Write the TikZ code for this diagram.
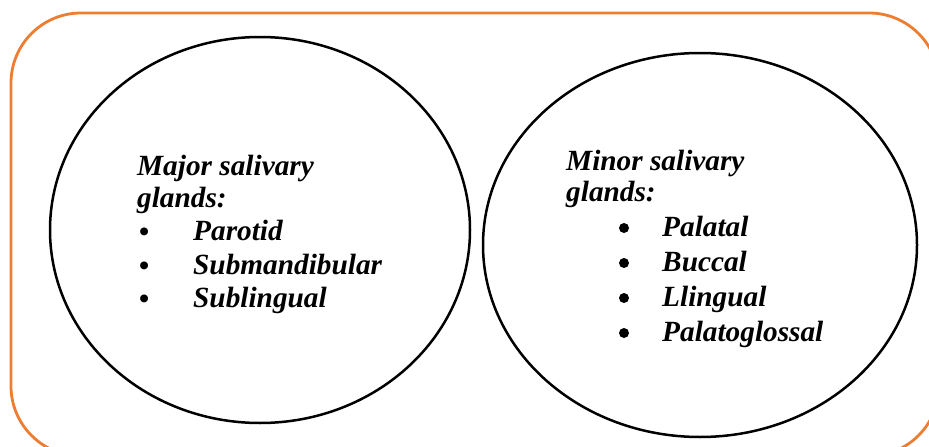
\documentclass[tikz,border=0pt]{standalone}
\usepackage{fontspec}
\setmainfont{Liberation Serif}
\usetikzlibrary{shapes.geometric}
\definecolor{frameorange}{RGB}{237,125,49}
\begin{document}
\begin{tikzpicture}[x=1pt,y=-1pt,
  txt/.style={anchor=base west, inner sep=0pt, font=\fontsize{29.3}{33}\selectfont\bfseries\itshape},
  bul/.style={anchor=base west, inner sep=0pt, font=\fontsize{29}{33}\selectfont\bfseries},
  dot/.style={circle, fill=black, inner sep=0pt, minimum size=10pt},
  oval/.style={ellipse, draw=black, line width=2.5pt, inner sep=0pt}]
\useasboundingbox (0,0) rectangle (929,447);
\begin{scope}
\clip (0,0) rectangle (929,447);
\draw[frameorange, line width=2.8pt, rounded corners=70pt] (11,13) rectangle (939,456);
\end{scope}
\node[oval, minimum width=420pt, minimum height=386pt] (major) at (260,230) {};
\node[oval, minimum width=434pt, minimum height=384pt] (minor) at (700,245) {};
% left text
\node[txt] (l1) at (137,175) {Major salivary};
\node[txt] (l2) at (137,207) {glands:};
\node[bul] (b1) at (139,241) {•};
\node[txt] (t1) at (193,240) {Parotid};
\node[bul] (b2) at (139,275) {•};
\node[txt] (t2) at (193,274) {Submandibular};
\node[bul] (b3) at (139,308) {•};
\node[txt] (t3) at (193,307) {Sublingual};
% right text
\node[txt] (r1) at (566,170) {Minor salivary};
\node[txt] (r2) at (566,201) {glands:};
\node[dot] (d1) at (624,228) {};
\node[txt] (s1) at (662,236) {Palatal};
\node[dot] (d2) at (624,263) {};
\node[txt] (s2) at (662,271) {Buccal};
\node[dot] (d3) at (624,298) {};
\node[txt] (s3) at (662,306) {Llingual};
\node[dot] (d4) at (624,333) {};
\node[txt] (s4) at (662,341) {Palatoglossal};
\end{tikzpicture}
\end{document}
